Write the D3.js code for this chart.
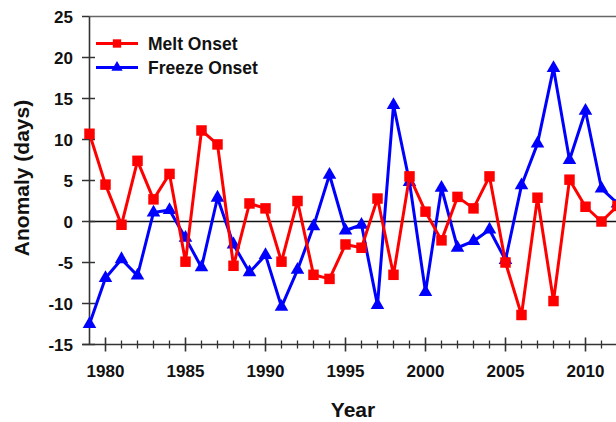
<!DOCTYPE html>
<html><head><meta charset="utf-8">
<script src="https://cdn.jsdelivr.net/npm/d3@7"></script>
<style>
html,body{margin:0;padding:0;background:#fff;}
svg{display:block;font-family:"Liberation Sans",Arial,sans-serif;}
</style></head>
<body>
<svg id="chart" width="616" height="422"></svg>
<script>
const years = d3.range(1979, 2013);
const meltOnset = [10.7, 4.5, -0.4, 7.4, 2.7, 5.8, -4.9, 11.1, 9.4, -5.4,
  2.2, 1.6, -4.9, 2.5, -6.5, -7.0, -2.8, -3.2, 2.8, -6.5,
  5.5, 1.2, -2.3, 3.0, 1.6, 5.5, -5.0, -11.4, 2.9, -9.7,
  5.1, 1.8, 0.0, 1.9];
const freezeOnset = [-12.5, -6.9, -4.6, -6.6, 1.1, 1.4, -2.0, -5.6, 2.9, -2.8,
  -6.2, -4.1, -10.4, -5.9, -0.6, 5.7, -1.1, -0.4, -10.2, 14.2,
  4.8, -8.6, 4.1, -3.2, -2.4, -1.0, -4.7, 4.4, 9.5, 18.7,
  7.5, 13.5, 4.0, 2.2];
const yTicks = [-15, -10, -5, 0, 5, 10, 15, 20, 25];
const xMajorTicks = [1980, 1985, 1990, 1995, 2000, 2005, 2010];
const seriesNames = ["Melt Onset", "Freeze Onset"];
const seriesColors = ["#ff0000", "#0000ff"];

const svg = d3.select("#chart");
const x = d3.scaleLinear().domain([1979, 2012]).range([89.5, 617.5]);
const y = d3.scaleLinear().domain([-15, 25]).range([344.5, 16.5]);
const axisColor = "#333";

// top frame
svg.append("line").attr("x1", x(1979)).attr("x2", 616).attr("y1", y(25)).attr("y2", y(25))
  .attr("stroke", "#666").attr("stroke-width", 1.6);

// zero line
svg.append("line").attr("x1", x(1979)).attr("x2", 616).attr("y1", y(0)).attr("y2", y(0))
  .attr("stroke", "#111").attr("stroke-width", 1.5);

// Y axis
const yAxis = svg.append("g");
yAxis.append("line").attr("x1", x(1979)).attr("x2", x(1979)).attr("y1", y(25)).attr("y2", y(-15))
  .attr("stroke", axisColor).attr("stroke-width", 1.6);
yAxis.selectAll("line.t").data(yTicks).join("line").attr("class", "t")
  .attr("x1", x(1979) - 7.5).attr("x2", d => d === 25 ? x(1979) : x(1979) + 5.5)
  .attr("y1", d => y(d)).attr("y2", d => y(d))
  .attr("stroke", axisColor).attr("stroke-width", 1.5);
yAxis.selectAll("text").data(yTicks).join("text")
  .attr("x", 73).attr("y", d => y(d)).attr("dy", "0.36em")
  .attr("text-anchor", "end").attr("font-size", 17).attr("font-weight", "bold").attr("fill", "#111")
  .text(d => d);

// X axis
const xAxis = svg.append("g");
xAxis.append("line").attr("x1", x(1979) - 7).attr("x2", 616).attr("y1", y(-15)).attr("y2", y(-15))
  .attr("stroke", axisColor).attr("stroke-width", 1.6);
const minorYears = years.filter(v => v % 5 !== 0 && v > 1979);
xAxis.selectAll("line.mi").data(minorYears).join("line").attr("class", "mi")
  .attr("x1", d => x(d)).attr("x2", d => x(d))
  .attr("y1", y(-15) - 4).attr("y2", y(-15) + 4)
  .attr("stroke", axisColor).attr("stroke-width", 1.3);
xAxis.selectAll("line.ma").data(xMajorTicks).join("line").attr("class", "ma")
  .attr("x1", d => x(d)).attr("x2", d => x(d))
  .attr("y1", y(-15) - 7).attr("y2", y(-15) + 7)
  .attr("stroke", axisColor).attr("stroke-width", 1.6);
xAxis.selectAll("text").data(xMajorTicks).join("text")
  .attr("x", d => x(d)).attr("y", 376.5)
  .attr("text-anchor", "middle").attr("font-size", 17).attr("font-weight", "bold").attr("fill", "#111")
  .text(d => d);

// axis titles
svg.append("text").attr("x", 353).attr("y", 417).attr("text-anchor", "middle")
  .attr("font-size", 21).attr("font-weight", "bold").attr("fill", "#111").text("Year");
svg.append("text").attr("transform", "translate(29,178) rotate(-90)").attr("text-anchor", "middle")
  .attr("font-size", 21).attr("font-weight", "bold").attr("fill", "#111").text("Anomaly (days)");

// series
const line = d3.line().x((d, i) => x(years[i])).y(d => y(d));

function drawSeries(vals, color, shape) {
  const g = svg.append("g");
  g.append("path").datum(vals).attr("d", line).attr("fill", "none")
    .attr("stroke", color).attr("stroke-width", 3).attr("stroke-linejoin", "round");
  const sym = d3.symbol().type(shape).size(shape === d3.symbolSquare ? 110 : 80);
  g.selectAll("path.m").data(vals).join("path").attr("class", "m")
    .attr("transform", (d, i) => `translate(${x(years[i])},${y(d)})`)
    .attr("d", sym).attr("fill", color);
}
drawSeries(freezeOnset, seriesColors[1], d3.symbolTriangle);
drawSeries(meltOnset, seriesColors[0], d3.symbolSquare);

// legend
const legend = svg.append("g");
const legRows = [{ name: seriesNames[0], color: seriesColors[0], shape: d3.symbolSquare, yy: 43.5 },
                 { name: seriesNames[1], color: seriesColors[1], shape: d3.symbolTriangle, yy: 67.5 }];
legRows.forEach(r => {
  legend.append("line").attr("x1", 96).attr("x2", 138).attr("y1", r.yy).attr("y2", r.yy)
    .attr("stroke", r.color).attr("stroke-width", 3);
  legend.append("path").attr("transform", `translate(117,${r.yy})`)
    .attr("d", d3.symbol().type(r.shape).size(r.shape === d3.symbolSquare ? 70 : 55)())
    .attr("fill", r.color);
  legend.append("text").attr("x", 148).attr("y", r.yy).attr("dy", "0.36em")
    .attr("font-size", 17.5).attr("font-weight", "bold").attr("fill", "#111").text(r.name);
});
</script>
</body></html>
